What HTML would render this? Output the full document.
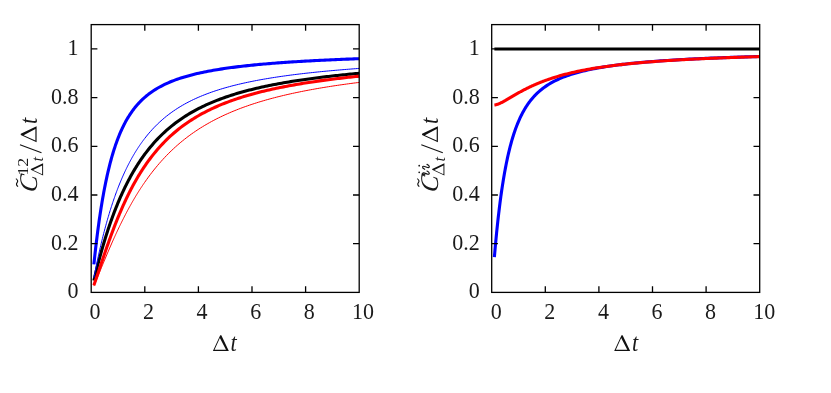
<!DOCTYPE html><html><head><meta charset="utf-8"><style>html,body{margin:0;padding:0;background:#fff}svg{display:block;will-change:transform}text{font-family:"Liberation Serif",serif;fill:#1a1a1a}</style></head><body>
<svg width="831" height="393" viewBox="0 0 831 393">
<rect width="831" height="393" fill="#fff"/>
<path d="M93.88,280.62 L94.31,278.81 L94.74,277.02 L95.16,275.25 L95.59,273.50 L96.02,271.76 L96.45,270.05 L96.88,268.35 L97.30,266.67 L97.73,265.01 L98.16,263.36 L98.59,261.73 L99.01,260.12 L99.44,258.52 L99.87,256.94 L100.30,255.38 L100.73,253.83 L101.15,252.30 L101.58,250.79 L102.01,249.29 L102.44,247.80 L102.87,246.33 L103.29,244.88 L103.72,243.44 L104.15,242.01 L104.58,240.60 L105.01,239.21 L105.43,237.82 L105.86,236.46 L106.29,235.10 L106.72,233.76 L107.14,232.43 L107.57,231.12 L108.00,229.82 L108.43,228.53 L108.86,227.26 L109.28,226.00 L109.71,224.75 L110.14,223.51 L110.57,222.29 L111.00,221.07 L111.42,219.87 L111.85,218.68 L112.28,217.51 L112.71,216.34 L113.14,215.19 L113.56,214.05 L113.99,212.91 L114.42,211.79 L114.85,210.68 L115.27,209.59 L115.70,208.50 L116.13,207.42 L116.56,206.36 L116.99,205.30 L117.41,204.25 L117.84,203.22 L118.27,202.19 L118.70,201.18 L119.13,200.17 L119.55,199.17 L119.98,198.19 L120.41,197.21 L120.84,196.24 L121.27,195.28 L121.69,194.33 L122.12,193.39 L122.55,192.46 L122.98,191.54 L123.41,190.62 L123.83,189.72 L124.26,188.82 L124.69,187.93 L125.12,187.05 L125.54,186.18 L125.97,185.32 L126.40,184.46 L126.83,183.61 L127.26,182.77 L127.68,181.94 L128.11,181.12 L128.54,180.30 L128.97,179.49 L129.40,178.69 L129.82,177.90 L130.25,177.11 L130.68,176.33 L131.11,175.56 L131.54,174.79 L131.96,174.03 L132.39,173.28 L132.82,172.54 L133.25,171.80 L133.67,171.07 L134.10,170.35 L134.53,169.63 L134.96,168.92 L135.39,168.21 L135.81,167.51 L136.24,166.82 L136.67,166.14 L137.10,165.46 L137.53,164.78 L137.95,164.11 L138.38,163.45 L138.81,162.80 L139.24,162.15 L139.67,161.50 L140.09,160.86 L140.52,160.23 L140.95,159.60 L141.38,158.98 L141.80,158.37 L142.23,157.75 L142.66,157.15 L143.09,156.55 L143.52,155.95 L143.94,155.36 L144.37,154.78 L144.80,154.20 L146.60,151.81 L148.40,149.51 L150.21,147.29 L152.01,145.15 L153.81,143.08 L155.61,141.08 L157.41,139.16 L159.21,137.29 L161.02,135.49 L162.82,133.75 L164.62,132.07 L166.42,130.45 L168.22,128.87 L170.02,127.35 L171.83,125.87 L173.63,124.45 L175.43,123.07 L177.23,121.73 L179.03,120.43 L180.83,119.17 L182.64,117.95 L184.44,116.77 L186.24,115.62 L188.04,114.50 L189.84,113.42 L191.64,112.37 L193.45,111.35 L195.25,110.36 L197.05,109.40 L198.85,108.46 L200.65,107.55 L202.45,106.67 L204.26,105.81 L206.06,104.97 L207.86,104.15 L209.66,103.36 L211.46,102.59 L213.26,101.84 L215.07,101.10 L216.87,100.39 L218.67,99.69 L220.47,99.01 L222.27,98.35 L224.07,97.70 L225.88,97.07 L227.68,96.46 L229.48,95.86 L231.28,95.27 L233.08,94.70 L234.88,94.14 L236.69,93.60 L238.49,93.06 L240.29,92.54 L242.09,92.03 L243.89,91.53 L245.69,91.04 L247.50,90.57 L249.30,90.10 L251.10,89.65 L252.90,89.20 L254.70,88.76 L256.50,88.33 L258.31,87.91 L260.11,87.50 L261.91,87.10 L263.71,86.71 L265.51,86.32 L267.31,85.94 L269.12,85.57 L270.92,85.21 L272.72,84.85 L274.52,84.50 L276.32,84.15 L278.12,83.82 L279.93,83.49 L281.73,83.16 L283.53,82.84 L285.33,82.53 L287.13,82.22 L288.93,81.92 L290.74,81.63 L292.54,81.33 L294.34,81.05 L296.14,80.77 L297.94,80.49 L299.74,80.22 L301.55,79.95 L303.35,79.69 L305.15,79.43 L306.95,79.18 L308.75,78.93 L310.55,78.68 L312.36,78.44 L314.16,78.20 L315.96,77.97 L317.76,77.74 L319.56,77.51 L321.36,77.29 L323.17,77.07 L324.97,76.85 L326.77,76.64 L328.57,76.43 L330.37,76.22 L332.17,76.02 L333.98,75.82 L335.78,75.62 L337.58,75.42 L339.38,75.23 L341.18,75.04 L342.98,74.86 L344.79,74.67 L346.59,74.49 L348.39,74.31 L350.19,74.14 L351.99,73.96 L353.79,73.79 L355.60,73.62 L357.40,73.45 L359.20,73.29" fill="none" stroke="#000000" stroke-width="3.1" stroke-linejoin="round"/>
<path d="M93.88,264.35 L94.31,260.29 L94.74,256.32 L95.16,252.46 L95.59,248.70 L96.02,245.03 L96.45,241.46 L96.88,237.97 L97.30,234.57 L97.73,231.26 L98.16,228.03 L98.59,224.88 L99.01,221.81 L99.44,218.81 L99.87,215.88 L100.30,213.03 L100.73,210.25 L101.15,207.53 L101.58,204.88 L102.01,202.30 L102.44,199.77 L102.87,197.31 L103.29,194.91 L103.72,192.56 L104.15,190.26 L104.58,188.02 L105.01,185.84 L105.43,183.70 L105.86,181.62 L106.29,179.58 L106.72,177.59 L107.14,175.64 L107.57,173.74 L108.00,171.88 L108.43,170.06 L108.86,168.29 L109.28,166.55 L109.71,164.85 L110.14,163.19 L110.57,161.57 L111.00,159.98 L111.42,158.43 L111.85,156.91 L112.28,155.43 L112.71,153.97 L113.14,152.55 L113.56,151.16 L113.99,149.79 L114.42,148.46 L114.85,147.15 L115.27,145.88 L115.70,144.62 L116.13,143.40 L116.56,142.20 L116.99,141.02 L117.41,139.87 L117.84,138.74 L118.27,137.64 L118.70,136.56 L119.13,135.49 L119.55,134.45 L119.98,133.43 L120.41,132.44 L120.84,131.46 L121.27,130.50 L121.69,129.55 L122.12,128.63 L122.55,127.73 L122.98,126.84 L123.41,125.97 L123.83,125.11 L124.26,124.27 L124.69,123.45 L125.12,122.64 L125.54,121.85 L125.97,121.07 L126.40,120.31 L126.83,119.56 L127.26,118.82 L127.68,118.10 L128.11,117.39 L128.54,116.69 L128.97,116.01 L129.40,115.34 L129.82,114.68 L130.25,114.03 L130.68,113.39 L131.11,112.76 L131.54,112.15 L131.96,111.54 L132.39,110.95 L132.82,110.36 L133.25,109.79 L133.67,109.22 L134.10,108.67 L134.53,108.12 L134.96,107.58 L135.39,107.05 L135.81,106.53 L136.24,106.02 L136.67,105.52 L137.10,105.02 L137.53,104.53 L137.95,104.05 L138.38,103.58 L138.81,103.12 L139.24,102.66 L139.67,102.21 L140.09,101.77 L140.52,101.33 L140.95,100.90 L141.38,100.48 L141.80,100.06 L142.23,99.65 L142.66,99.24 L143.09,98.84 L143.52,98.45 L143.94,98.07 L144.37,97.68 L144.80,97.31 L146.60,95.78 L148.40,94.35 L150.21,93.00 L152.01,91.72 L153.81,90.51 L155.61,89.36 L157.41,88.28 L159.21,87.25 L161.02,86.27 L162.82,85.34 L164.62,84.46 L166.42,83.61 L168.22,82.80 L170.02,82.03 L171.83,81.30 L173.63,80.59 L175.43,79.92 L177.23,79.27 L179.03,78.65 L180.83,78.06 L182.64,77.48 L184.44,76.93 L186.24,76.40 L188.04,75.89 L189.84,75.40 L191.64,74.93 L193.45,74.47 L195.25,74.03 L197.05,73.60 L198.85,73.19 L200.65,72.79 L202.45,72.40 L204.26,72.03 L206.06,71.67 L207.86,71.32 L209.66,70.98 L211.46,70.65 L213.26,70.33 L215.07,70.02 L216.87,69.71 L218.67,69.42 L220.47,69.13 L222.27,68.86 L224.07,68.59 L225.88,68.32 L227.68,68.07 L229.48,67.82 L231.28,67.58 L233.08,67.34 L234.88,67.11 L236.69,66.88 L238.49,66.66 L240.29,66.45 L242.09,66.24 L243.89,66.04 L245.69,65.84 L247.50,65.64 L249.30,65.45 L251.10,65.27 L252.90,65.09 L254.70,64.91 L256.50,64.73 L258.31,64.56 L260.11,64.40 L261.91,64.23 L263.71,64.07 L265.51,63.92 L267.31,63.76 L269.12,63.61 L270.92,63.47 L272.72,63.32 L274.52,63.18 L276.32,63.04 L278.12,62.91 L279.93,62.77 L281.73,62.64 L283.53,62.52 L285.33,62.39 L287.13,62.27 L288.93,62.14 L290.74,62.02 L292.54,61.91 L294.34,61.79 L296.14,61.68 L297.94,61.57 L299.74,61.46 L301.55,61.35 L303.35,61.25 L305.15,61.14 L306.95,61.04 L308.75,60.94 L310.55,60.84 L312.36,60.75 L314.16,60.65 L315.96,60.56 L317.76,60.46 L319.56,60.37 L321.36,60.28 L323.17,60.20 L324.97,60.11 L326.77,60.02 L328.57,59.94 L330.37,59.86 L332.17,59.78 L333.98,59.70 L335.78,59.62 L337.58,59.54 L339.38,59.46 L341.18,59.39 L342.98,59.31 L344.79,59.24 L346.59,59.16 L348.39,59.09 L350.19,59.02 L351.99,58.95 L353.79,58.88 L355.60,58.82 L357.40,58.75 L359.20,58.68" fill="none" stroke="#0000ff" stroke-width="3.1" stroke-linejoin="round"/>
<path d="M93.88,285.19 L94.31,283.99 L94.74,282.78 L95.16,281.55 L95.59,280.32 L96.02,279.08 L96.45,277.83 L96.88,276.58 L97.30,275.32 L97.73,274.05 L98.16,272.79 L98.59,271.52 L99.01,270.24 L99.44,268.97 L99.87,267.70 L100.30,266.42 L100.73,265.15 L101.15,263.87 L101.58,262.60 L102.01,261.33 L102.44,260.06 L102.87,258.79 L103.29,257.53 L103.72,256.27 L104.15,255.01 L104.58,253.76 L105.01,252.51 L105.43,251.26 L105.86,250.03 L106.29,248.79 L106.72,247.56 L107.14,246.34 L107.57,245.12 L108.00,243.91 L108.43,242.70 L108.86,241.50 L109.28,240.31 L109.71,239.12 L110.14,237.94 L110.57,236.76 L111.00,235.59 L111.42,234.43 L111.85,233.28 L112.28,232.13 L112.71,230.99 L113.14,229.86 L113.56,228.74 L113.99,227.62 L114.42,226.51 L114.85,225.41 L115.27,224.31 L115.70,223.23 L116.13,222.15 L116.56,221.07 L116.99,220.01 L117.41,218.95 L117.84,217.90 L118.27,216.86 L118.70,215.83 L119.13,214.80 L119.55,213.78 L119.98,212.77 L120.41,211.77 L120.84,210.77 L121.27,209.78 L121.69,208.80 L122.12,207.83 L122.55,206.86 L122.98,205.90 L123.41,204.95 L123.83,204.01 L124.26,203.07 L124.69,202.14 L125.12,201.22 L125.54,200.31 L125.97,199.40 L126.40,198.50 L126.83,197.61 L127.26,196.72 L127.68,195.85 L128.11,194.98 L128.54,194.11 L128.97,193.25 L129.40,192.40 L129.82,191.56 L130.25,190.72 L130.68,189.90 L131.11,189.07 L131.54,188.26 L131.96,187.45 L132.39,186.64 L132.82,185.85 L133.25,185.06 L133.67,184.28 L134.10,183.50 L134.53,182.73 L134.96,181.96 L135.39,181.21 L135.81,180.46 L136.24,179.71 L136.67,178.97 L137.10,178.24 L137.53,177.51 L137.95,176.79 L138.38,176.07 L138.81,175.36 L139.24,174.66 L139.67,173.96 L140.09,173.27 L140.52,172.59 L140.95,171.90 L141.38,171.23 L141.80,170.56 L142.23,169.90 L142.66,169.24 L143.09,168.58 L143.52,167.94 L143.94,167.29 L144.37,166.66 L144.80,166.03 L146.60,163.42 L148.40,160.90 L150.21,158.47 L152.01,156.12 L153.81,153.85 L155.61,151.65 L157.41,149.53 L159.21,147.48 L161.02,145.49 L162.82,143.57 L164.62,141.71 L166.42,139.91 L168.22,138.17 L170.02,136.48 L171.83,134.85 L173.63,133.26 L175.43,131.73 L177.23,130.24 L179.03,128.80 L180.83,127.40 L182.64,126.04 L184.44,124.73 L186.24,123.45 L188.04,122.21 L189.84,121.01 L191.64,119.84 L193.45,118.70 L195.25,117.60 L197.05,116.52 L198.85,115.48 L200.65,114.46 L202.45,113.48 L204.26,112.52 L206.06,111.58 L207.86,110.67 L209.66,109.79 L211.46,108.92 L213.26,108.08 L215.07,107.27 L216.87,106.47 L218.67,105.69 L220.47,104.93 L222.27,104.19 L224.07,103.47 L225.88,102.77 L227.68,102.08 L229.48,101.41 L231.28,100.75 L233.08,100.11 L234.88,99.49 L236.69,98.88 L238.49,98.28 L240.29,97.70 L242.09,97.13 L243.89,96.57 L245.69,96.03 L247.50,95.50 L249.30,94.97 L251.10,94.46 L252.90,93.96 L254.70,93.48 L256.50,93.00 L258.31,92.53 L260.11,92.07 L261.91,91.62 L263.71,91.18 L265.51,90.75 L267.31,90.32 L269.12,89.91 L270.92,89.50 L272.72,89.10 L274.52,88.71 L276.32,88.32 L278.12,87.95 L279.93,87.58 L281.73,87.21 L283.53,86.86 L285.33,86.51 L287.13,86.16 L288.93,85.83 L290.74,85.50 L292.54,85.17 L294.34,84.85 L296.14,84.54 L297.94,84.23 L299.74,83.92 L301.55,83.62 L303.35,83.33 L305.15,83.04 L306.95,82.76 L308.75,82.48 L310.55,82.20 L312.36,81.93 L314.16,81.67 L315.96,81.41 L317.76,81.15 L319.56,80.89 L321.36,80.64 L323.17,80.40 L324.97,80.16 L326.77,79.92 L328.57,79.68 L330.37,79.45 L332.17,79.22 L333.98,79.00 L335.78,78.78 L337.58,78.56 L339.38,78.35 L341.18,78.13 L342.98,77.93 L344.79,77.72 L346.59,77.52 L348.39,77.32 L350.19,77.12 L351.99,76.93 L353.79,76.73 L355.60,76.54 L357.40,76.36 L359.20,76.17" fill="none" stroke="#ff0000" stroke-width="3.1" stroke-linejoin="round"/>
<path d="M93.88,277.80 L94.31,275.58 L94.74,273.38 L95.16,271.22 L95.59,269.09 L96.02,266.98 L96.45,264.90 L96.88,262.84 L97.30,260.82 L97.73,258.81 L98.16,256.84 L98.59,254.89 L99.01,252.96 L99.44,251.06 L99.87,249.19 L100.30,247.34 L100.73,245.51 L101.15,243.70 L101.58,241.92 L102.01,240.16 L102.44,238.42 L102.87,236.71 L103.29,235.01 L103.72,233.34 L104.15,231.69 L104.58,230.06 L105.01,228.45 L105.43,226.86 L105.86,225.29 L106.29,223.74 L106.72,222.21 L107.14,220.69 L107.57,219.20 L108.00,217.72 L108.43,216.27 L108.86,214.83 L109.28,213.40 L109.71,212.00 L110.14,210.61 L110.57,209.24 L111.00,207.89 L111.42,206.55 L111.85,205.23 L112.28,203.92 L112.71,202.64 L113.14,201.36 L113.56,200.10 L113.99,198.86 L114.42,197.63 L114.85,196.42 L115.27,195.22 L115.70,194.03 L116.13,192.86 L116.56,191.71 L116.99,190.56 L117.41,189.43 L117.84,188.32 L118.27,187.21 L118.70,186.12 L119.13,185.04 L119.55,183.98 L119.98,182.93 L120.41,181.89 L120.84,180.86 L121.27,179.84 L121.69,178.84 L122.12,177.84 L122.55,176.86 L122.98,175.89 L123.41,174.93 L123.83,173.99 L124.26,173.05 L124.69,172.12 L125.12,171.20 L125.54,170.30 L125.97,169.40 L126.40,168.52 L126.83,167.64 L127.26,166.78 L127.68,165.92 L128.11,165.07 L128.54,164.24 L128.97,163.41 L129.40,162.59 L129.82,161.78 L130.25,160.98 L130.68,160.19 L131.11,159.41 L131.54,158.63 L131.96,157.87 L132.39,157.11 L132.82,156.36 L133.25,155.62 L133.67,154.89 L134.10,154.16 L134.53,153.44 L134.96,152.73 L135.39,152.03 L135.81,151.34 L136.24,150.65 L136.67,149.97 L137.10,149.30 L137.53,148.63 L137.95,147.98 L138.38,147.32 L138.81,146.68 L139.24,146.04 L139.67,145.41 L140.09,144.79 L140.52,144.17 L140.95,143.56 L141.38,142.95 L141.80,142.36 L142.23,141.76 L142.66,141.18 L143.09,140.60 L143.52,140.02 L143.94,139.45 L144.37,138.89 L144.80,138.33 L146.60,136.05 L148.40,133.86 L150.21,131.76 L152.01,129.75 L153.81,127.82 L155.61,125.97 L157.41,124.18 L159.21,122.47 L161.02,120.83 L162.82,119.25 L164.62,117.72 L166.42,116.26 L168.22,114.85 L170.02,113.49 L171.83,112.18 L173.63,110.92 L175.43,109.70 L177.23,108.52 L179.03,107.39 L180.83,106.29 L182.64,105.23 L184.44,104.20 L186.24,103.21 L188.04,102.26 L189.84,101.33 L191.64,100.43 L193.45,99.56 L195.25,98.72 L197.05,97.90 L198.85,97.11 L200.65,96.35 L202.45,95.60 L204.26,94.88 L206.06,94.18 L207.86,93.49 L209.66,92.83 L211.46,92.19 L213.26,91.56 L215.07,90.95 L216.87,90.36 L218.67,89.79 L220.47,89.23 L222.27,88.68 L224.07,88.15 L225.88,87.63 L227.68,87.13 L229.48,86.63 L231.28,86.15 L233.08,85.68 L234.88,85.23 L236.69,84.78 L238.49,84.35 L240.29,83.92 L242.09,83.51 L243.89,83.10 L245.69,82.71 L247.50,82.32 L249.30,81.94 L251.10,81.57 L252.90,81.21 L254.70,80.85 L256.50,80.51 L258.31,80.17 L260.11,79.84 L261.91,79.51 L263.71,79.19 L265.51,78.88 L267.31,78.58 L269.12,78.28 L270.92,77.98 L272.72,77.69 L274.52,77.41 L276.32,77.14 L278.12,76.86 L279.93,76.60 L281.73,76.34 L283.53,76.08 L285.33,75.83 L287.13,75.58 L288.93,75.34 L290.74,75.10 L292.54,74.87 L294.34,74.64 L296.14,74.41 L297.94,74.19 L299.74,73.97 L301.55,73.76 L303.35,73.55 L305.15,73.34 L306.95,73.14 L308.75,72.94 L310.55,72.74 L312.36,72.55 L314.16,72.36 L315.96,72.17 L317.76,71.98 L319.56,71.80 L321.36,71.62 L323.17,71.45 L324.97,71.27 L326.77,71.10 L328.57,70.93 L330.37,70.77 L332.17,70.61 L333.98,70.45 L335.78,70.29 L337.58,70.13 L339.38,69.98 L341.18,69.83 L342.98,69.68 L344.79,69.53 L346.59,69.38 L348.39,69.24 L350.19,69.10 L351.99,68.96 L353.79,68.82 L355.60,68.69 L357.40,68.55 L359.20,68.42" fill="none" stroke="#0000ff" stroke-width="1.0" stroke-linejoin="round"/>
<path d="M93.88,286.07 L94.31,285.04 L94.74,284.01 L95.16,282.98 L95.59,281.94 L96.02,280.90 L96.45,279.86 L96.88,278.82 L97.30,277.77 L97.73,276.73 L98.16,275.69 L98.59,274.64 L99.01,273.59 L99.44,272.55 L99.87,271.50 L100.30,270.46 L100.73,269.41 L101.15,268.37 L101.58,267.33 L102.01,266.29 L102.44,265.25 L102.87,264.21 L103.29,263.17 L103.72,262.14 L104.15,261.11 L104.58,260.08 L105.01,259.05 L105.43,258.03 L105.86,257.01 L106.29,255.99 L106.72,254.97 L107.14,253.96 L107.57,252.95 L108.00,251.94 L108.43,250.94 L108.86,249.94 L109.28,248.95 L109.71,247.96 L110.14,246.97 L110.57,245.98 L111.00,245.00 L111.42,244.03 L111.85,243.06 L112.28,242.09 L112.71,241.13 L113.14,240.17 L113.56,239.21 L113.99,238.26 L114.42,237.31 L114.85,236.37 L115.27,235.44 L115.70,234.50 L116.13,233.57 L116.56,232.65 L116.99,231.73 L117.41,230.82 L117.84,229.91 L118.27,229.00 L118.70,228.10 L119.13,227.21 L119.55,226.32 L119.98,225.43 L120.41,224.55 L120.84,223.68 L121.27,222.80 L121.69,221.94 L122.12,221.08 L122.55,220.22 L122.98,219.37 L123.41,218.52 L123.83,217.68 L124.26,216.84 L124.69,216.01 L125.12,215.18 L125.54,214.36 L125.97,213.54 L126.40,212.73 L126.83,211.92 L127.26,211.12 L127.68,210.32 L128.11,209.52 L128.54,208.74 L128.97,207.95 L129.40,207.17 L129.82,206.40 L130.25,205.63 L130.68,204.86 L131.11,204.10 L131.54,203.35 L131.96,202.60 L132.39,201.85 L132.82,201.11 L133.25,200.37 L133.67,199.64 L134.10,198.91 L134.53,198.19 L134.96,197.47 L135.39,196.76 L135.81,196.05 L136.24,195.34 L136.67,194.64 L137.10,193.95 L137.53,193.26 L137.95,192.57 L138.38,191.89 L138.81,191.21 L139.24,190.54 L139.67,189.87 L140.09,189.20 L140.52,188.54 L140.95,187.89 L141.38,187.23 L141.80,186.59 L142.23,185.94 L142.66,185.30 L143.09,184.67 L143.52,184.04 L143.94,183.41 L144.37,182.79 L144.80,182.17 L146.60,179.61 L148.40,177.12 L150.21,174.69 L152.01,172.34 L153.81,170.04 L155.61,167.82 L157.41,165.65 L159.21,163.54 L161.02,161.49 L162.82,159.49 L164.62,157.55 L166.42,155.66 L168.22,153.82 L170.02,152.04 L171.83,150.30 L173.63,148.60 L175.43,146.95 L177.23,145.35 L179.03,143.78 L180.83,142.26 L182.64,140.78 L184.44,139.34 L186.24,137.93 L188.04,136.56 L189.84,135.22 L191.64,133.92 L193.45,132.65 L195.25,131.42 L197.05,130.21 L198.85,129.03 L200.65,127.89 L202.45,126.77 L204.26,125.68 L206.06,124.61 L207.86,123.57 L209.66,122.55 L211.46,121.56 L213.26,120.60 L215.07,119.65 L216.87,118.73 L218.67,117.83 L220.47,116.94 L222.27,116.08 L224.07,115.24 L225.88,114.42 L227.68,113.61 L229.48,112.83 L231.28,112.06 L233.08,111.30 L234.88,110.57 L236.69,109.85 L238.49,109.14 L240.29,108.45 L242.09,107.78 L243.89,107.11 L245.69,106.47 L247.50,105.83 L249.30,105.21 L251.10,104.60 L252.90,104.00 L254.70,103.42 L256.50,102.85 L258.31,102.28 L260.11,101.73 L261.91,101.19 L263.71,100.66 L265.51,100.14 L267.31,99.63 L269.12,99.13 L270.92,98.64 L272.72,98.16 L274.52,97.68 L276.32,97.22 L278.12,96.76 L279.93,96.32 L281.73,95.88 L283.53,95.44 L285.33,95.02 L287.13,94.60 L288.93,94.19 L290.74,93.79 L292.54,93.39 L294.34,93.01 L296.14,92.62 L297.94,92.25 L299.74,91.88 L301.55,91.51 L303.35,91.16 L305.15,90.80 L306.95,90.46 L308.75,90.12 L310.55,89.78 L312.36,89.45 L314.16,89.13 L315.96,88.81 L317.76,88.49 L319.56,88.18 L321.36,87.88 L323.17,87.58 L324.97,87.28 L326.77,86.99 L328.57,86.70 L330.37,86.42 L332.17,86.14 L333.98,85.87 L335.78,85.59 L337.58,85.33 L339.38,85.06 L341.18,84.81 L342.98,84.55 L344.79,84.30 L346.59,84.05 L348.39,83.80 L350.19,83.56 L351.99,83.32 L353.79,83.09 L355.60,82.86 L357.40,82.63 L359.20,82.40" fill="none" stroke="#ff0000" stroke-width="1.0" stroke-linejoin="round"/>
<rect x="91.20" y="24.60" width="268.00" height="267.80" fill="none" stroke="#000" stroke-width="1.3"/>
<path d="M144.80,292.40v-6.2 M144.80,24.60v6.2 M198.40,292.40v-6.2 M198.40,24.60v6.2 M252.00,292.40v-6.2 M252.00,24.60v6.2 M305.60,292.40v-6.2 M305.60,24.60v6.2 M91.20,243.71h6.2 M359.20,243.71h-6.2 M91.20,195.02h6.2 M359.20,195.02h-6.2 M91.20,146.33h6.2 M359.20,146.33h-6.2 M91.20,97.64h6.2 M359.20,97.64h-6.2 M91.20,48.95h6.2 M359.20,48.95h-6.2" stroke="#000" stroke-width="1.3" fill="none"/>
<text transform="translate(94.90,319.3) scale(0.95,1)" font-size="23.2" text-anchor="middle">0</text>
<text transform="translate(148.50,319.3) scale(0.95,1)" font-size="23.2" text-anchor="middle">2</text>
<text transform="translate(202.10,319.3) scale(0.95,1)" font-size="23.2" text-anchor="middle">4</text>
<text transform="translate(255.70,319.3) scale(0.95,1)" font-size="23.2" text-anchor="middle">6</text>
<text transform="translate(309.30,319.3) scale(0.95,1)" font-size="23.2" text-anchor="middle">8</text>
<text transform="translate(362.90,319.3) scale(0.95,1)" font-size="23.2" text-anchor="middle">10</text>
<text transform="translate(78.50,298.40) scale(0.95,1)" font-size="23.2" text-anchor="end">0</text>
<text transform="translate(78.50,249.71) scale(0.95,1)" font-size="23.2" text-anchor="end">0.2</text>
<text transform="translate(78.50,201.02) scale(0.95,1)" font-size="23.2" text-anchor="end">0.4</text>
<text transform="translate(78.50,152.33) scale(0.95,1)" font-size="23.2" text-anchor="end">0.6</text>
<text transform="translate(78.50,103.64) scale(0.95,1)" font-size="23.2" text-anchor="end">0.8</text>
<text transform="translate(78.50,54.95) scale(0.95,1)" font-size="23.2" text-anchor="end">1</text>
<path transform="translate(212.90,351.00)" d="M0,0 L15.95,0 L8.41,-15.84 L7.31,-15.84 Z M1.65,-1.21 L13.09,-1.21 L6.98,-12.98 Z" fill="#111" fill-rule="evenodd"/>
<text transform="translate(230.60,351.3) scale(0.88,1)" font-size="25.5" font-style="italic">t</text>
<g transform="translate(36.60,192.5) rotate(-90)">
<text transform="translate(-0.6,0.3) skewX(-9)" font-size="25.5" font-style="italic">C</text>
<path d="M5.9,-18.6 q2.0,-2.5 4.0,-0.9 t4.0,-1.2" fill="none" stroke="#111" stroke-width="1.15"/>
<text x="16.9" y="-8.8" font-size="14.5" textLength="17.7" lengthAdjust="spacingAndGlyphs">12</text>
<path transform="translate(17.00,6.50)" d="M0,0 L12.32,0 L6.50,-12.24 L5.65,-12.24 Z M1.27,-0.94 L10.11,-0.94 L5.40,-10.03 Z" fill="#111" fill-rule="evenodd"/>
<text transform="translate(31.0,6.7) scale(0.95,1)" font-size="17" font-style="italic">t</text>
<path d="M39.7,4.9 L47.7,-16.6" stroke="#111" stroke-width="1.05" fill="none"/>
<path transform="translate(50.30,0.00)" d="M0,0 L15.95,0 L8.41,-15.84 L7.31,-15.84 Z M1.65,-1.21 L13.09,-1.21 L6.98,-12.98 Z" fill="#111" fill-rule="evenodd"/>
<text transform="translate(68.6,0.3) scale(0.88,1)" font-size="25.5" font-style="italic">t</text>
</g>
<path d="M494.38,257.04 L494.81,252.05 L495.24,247.22 L495.66,242.56 L496.09,238.04 L496.52,233.67 L496.95,229.44 L497.38,225.34 L497.80,221.38 L498.23,217.54 L498.66,213.82 L499.09,210.22 L499.51,206.73 L499.94,203.35 L500.37,200.07 L500.80,196.89 L501.23,193.81 L501.65,190.82 L502.08,187.93 L502.51,185.12 L502.94,182.39 L503.37,179.75 L503.79,177.18 L504.22,174.69 L504.65,172.27 L505.08,169.93 L505.51,167.65 L505.93,165.43 L506.36,163.28 L506.79,161.19 L507.22,159.16 L507.64,157.18 L508.07,155.27 L508.50,153.40 L508.93,151.59 L509.36,149.82 L509.78,148.10 L510.21,146.43 L510.64,144.81 L511.07,143.23 L511.50,141.69 L511.92,140.19 L512.35,138.73 L512.78,137.31 L513.21,135.92 L513.64,134.58 L514.06,133.26 L514.49,131.98 L514.92,130.73 L515.35,129.51 L515.77,128.33 L516.20,127.17 L516.63,126.04 L517.06,124.94 L517.49,123.86 L517.91,122.81 L518.34,121.79 L518.77,120.79 L519.20,119.81 L519.63,118.86 L520.05,117.93 L520.48,117.02 L520.91,116.13 L521.34,115.26 L521.77,114.42 L522.19,113.59 L522.62,112.78 L523.05,111.98 L523.48,111.21 L523.91,110.45 L524.33,109.71 L524.76,108.98 L525.19,108.27 L525.62,107.57 L526.04,106.89 L526.47,106.23 L526.90,105.58 L527.33,104.94 L527.76,104.31 L528.18,103.70 L528.61,103.10 L529.04,102.51 L529.47,101.93 L529.90,101.37 L530.32,100.81 L530.75,100.27 L531.18,99.74 L531.61,99.21 L532.04,98.70 L532.46,98.20 L532.89,97.70 L533.32,97.22 L533.75,96.74 L534.17,96.28 L534.60,95.82 L535.03,95.37 L535.46,94.93 L535.89,94.50 L536.31,94.07 L536.74,93.65 L537.17,93.24 L537.60,92.84 L538.03,92.44 L538.45,92.05 L538.88,91.67 L539.31,91.29 L539.74,90.92 L540.17,90.56 L540.59,90.20 L541.02,89.85 L541.45,89.50 L541.88,89.16 L542.30,88.82 L542.73,88.49 L543.16,88.17 L543.59,87.85 L544.02,87.54 L544.44,87.23 L544.87,86.92 L545.30,86.62 L547.10,85.41 L548.90,84.27 L550.71,83.20 L552.51,82.19 L554.31,81.23 L556.11,80.33 L557.91,79.48 L559.71,78.68 L561.52,77.91 L563.32,77.18 L565.12,76.49 L566.92,75.83 L568.72,75.20 L570.52,74.60 L572.33,74.03 L574.13,73.48 L575.93,72.96 L577.73,72.46 L579.53,71.97 L581.33,71.51 L583.14,71.07 L584.94,70.64 L586.74,70.23 L588.54,69.83 L590.34,69.45 L592.14,69.08 L593.95,68.73 L595.75,68.38 L597.55,68.05 L599.35,67.73 L601.15,67.42 L602.95,67.13 L604.76,66.84 L606.56,66.56 L608.36,66.28 L610.16,66.02 L611.96,65.76 L613.76,65.52 L615.57,65.27 L617.37,65.04 L619.17,64.81 L620.97,64.59 L622.77,64.38 L624.57,64.17 L626.38,63.96 L628.18,63.77 L629.98,63.57 L631.78,63.38 L633.58,63.20 L635.38,63.02 L637.19,62.85 L638.99,62.68 L640.79,62.51 L642.59,62.35 L644.39,62.19 L646.19,62.04 L648.00,61.89 L649.80,61.74 L651.60,61.59 L653.40,61.45 L655.20,61.32 L657.00,61.18 L658.81,61.05 L660.61,60.92 L662.41,60.79 L664.21,60.67 L666.01,60.55 L667.81,60.43 L669.62,60.31 L671.42,60.20 L673.22,60.09 L675.02,59.98 L676.82,59.87 L678.62,59.77 L680.43,59.66 L682.23,59.56 L684.03,59.46 L685.83,59.36 L687.63,59.27 L689.43,59.17 L691.24,59.08 L693.04,58.99 L694.84,58.90 L696.64,58.81 L698.44,58.73 L700.24,58.64 L702.05,58.56 L703.85,58.48 L705.65,58.40 L707.45,58.32 L709.25,58.24 L711.05,58.17 L712.86,58.09 L714.66,58.02 L716.46,57.94 L718.26,57.87 L720.06,57.80 L721.86,57.73 L723.67,57.66 L725.47,57.60 L727.27,57.53 L729.07,57.47 L730.87,57.40 L732.67,57.34 L734.48,57.28 L736.28,57.22 L738.08,57.15 L739.88,57.10 L741.68,57.04 L743.48,56.98 L745.29,56.92 L747.09,56.87 L748.89,56.81 L750.69,56.76 L752.49,56.70 L754.29,56.65 L756.10,56.60 L757.90,56.54 L759.70,56.49" fill="none" stroke="#0000ff" stroke-width="3.1" stroke-linejoin="round"/>
<path d="M494.38,105.00 L494.81,104.95 L495.24,104.88 L495.66,104.80 L496.09,104.71 L496.52,104.60 L496.95,104.47 L497.38,104.34 L497.80,104.19 L498.23,104.04 L498.66,103.87 L499.09,103.70 L499.51,103.52 L499.94,103.33 L500.37,103.13 L500.80,102.93 L501.23,102.72 L501.65,102.51 L502.08,102.29 L502.51,102.07 L502.94,101.84 L503.37,101.61 L503.79,101.38 L504.22,101.14 L504.65,100.90 L505.08,100.66 L505.51,100.42 L505.93,100.17 L506.36,99.93 L506.79,99.68 L507.22,99.43 L507.64,99.18 L508.07,98.93 L508.50,98.67 L508.93,98.42 L509.36,98.17 L509.78,97.92 L510.21,97.66 L510.64,97.41 L511.07,97.16 L511.50,96.90 L511.92,96.65 L512.35,96.40 L512.78,96.15 L513.21,95.90 L513.64,95.64 L514.06,95.39 L514.49,95.15 L514.92,94.90 L515.35,94.65 L515.77,94.40 L516.20,94.16 L516.63,93.91 L517.06,93.67 L517.49,93.43 L517.91,93.19 L518.34,92.95 L518.77,92.71 L519.20,92.47 L519.63,92.23 L520.05,92.00 L520.48,91.76 L520.91,91.53 L521.34,91.30 L521.77,91.07 L522.19,90.84 L522.62,90.61 L523.05,90.39 L523.48,90.16 L523.91,89.94 L524.33,89.72 L524.76,89.50 L525.19,89.28 L525.62,89.06 L526.04,88.84 L526.47,88.63 L526.90,88.41 L527.33,88.20 L527.76,87.99 L528.18,87.78 L528.61,87.57 L529.04,87.37 L529.47,87.16 L529.90,86.96 L530.32,86.76 L530.75,86.56 L531.18,86.36 L531.61,86.16 L532.04,85.96 L532.46,85.77 L532.89,85.57 L533.32,85.38 L533.75,85.19 L534.17,85.00 L534.60,84.81 L535.03,84.62 L535.46,84.44 L535.89,84.25 L536.31,84.07 L536.74,83.89 L537.17,83.71 L537.60,83.53 L538.03,83.35 L538.45,83.17 L538.88,83.00 L539.31,82.82 L539.74,82.65 L540.17,82.48 L540.59,82.31 L541.02,82.14 L541.45,81.97 L541.88,81.81 L542.30,81.64 L542.73,81.48 L543.16,81.31 L543.59,81.15 L544.02,80.99 L544.44,80.83 L544.87,80.67 L545.30,80.52 L547.10,79.87 L548.90,79.24 L550.71,78.63 L552.51,78.04 L554.31,77.46 L556.11,76.91 L557.91,76.37 L559.71,75.84 L561.52,75.33 L563.32,74.84 L565.12,74.36 L566.92,73.90 L568.72,73.45 L570.52,73.01 L572.33,72.59 L574.13,72.17 L575.93,71.77 L577.73,71.38 L579.53,71.00 L581.33,70.64 L583.14,70.28 L584.94,69.93 L586.74,69.59 L588.54,69.26 L590.34,68.94 L592.14,68.63 L593.95,68.33 L595.75,68.03 L597.55,67.74 L599.35,67.46 L601.15,67.19 L602.95,66.93 L604.76,66.67 L606.56,66.41 L608.36,66.17 L610.16,65.93 L611.96,65.69 L613.76,65.47 L615.57,65.24 L617.37,65.03 L619.17,64.81 L620.97,64.61 L622.77,64.40 L624.57,64.21 L626.38,64.01 L628.18,63.83 L629.98,63.64 L631.78,63.46 L633.58,63.29 L635.38,63.11 L637.19,62.95 L638.99,62.78 L640.79,62.62 L642.59,62.46 L644.39,62.31 L646.19,62.16 L648.00,62.01 L649.80,61.87 L651.60,61.73 L653.40,61.59 L655.20,61.45 L657.00,61.32 L658.81,61.19 L660.61,61.06 L662.41,60.93 L664.21,60.81 L666.01,60.69 L667.81,60.57 L669.62,60.46 L671.42,60.34 L673.22,60.23 L675.02,60.12 L676.82,60.02 L678.62,59.91 L680.43,59.81 L682.23,59.71 L684.03,59.61 L685.83,59.51 L687.63,59.41 L689.43,59.32 L691.24,59.23 L693.04,59.13 L694.84,59.05 L696.64,58.96 L698.44,58.87 L700.24,58.79 L702.05,58.70 L703.85,58.62 L705.65,58.54 L707.45,58.46 L709.25,58.38 L711.05,58.30 L712.86,58.23 L714.66,58.15 L716.46,58.08 L718.26,58.01 L720.06,57.94 L721.86,57.87 L723.67,57.80 L725.47,57.73 L727.27,57.66 L729.07,57.60 L730.87,57.53 L732.67,57.47 L734.48,57.40 L736.28,57.34 L738.08,57.28 L739.88,57.22 L741.68,57.16 L743.48,57.10 L745.29,57.04 L747.09,56.99 L748.89,56.93 L750.69,56.88 L752.49,56.82 L754.29,56.77 L756.10,56.71 L757.90,56.66 L759.70,56.61" fill="none" stroke="#ff0000" stroke-width="3.1" stroke-linejoin="round"/>
<path d="M494.38,48.95 L494.81,48.95 L495.24,48.95 L495.66,48.95 L496.09,48.95 L496.52,48.95 L496.95,48.95 L497.38,48.95 L497.80,48.95 L498.23,48.95 L498.66,48.95 L499.09,48.95 L499.51,48.95 L499.94,48.95 L500.37,48.95 L500.80,48.95 L501.23,48.95 L501.65,48.95 L502.08,48.95 L502.51,48.95 L502.94,48.95 L503.37,48.95 L503.79,48.95 L504.22,48.95 L504.65,48.95 L505.08,48.95 L505.51,48.95 L505.93,48.95 L506.36,48.95 L506.79,48.95 L507.22,48.95 L507.64,48.95 L508.07,48.95 L508.50,48.95 L508.93,48.95 L509.36,48.95 L509.78,48.95 L510.21,48.95 L510.64,48.95 L511.07,48.95 L511.50,48.95 L511.92,48.95 L512.35,48.95 L512.78,48.95 L513.21,48.95 L513.64,48.95 L514.06,48.95 L514.49,48.95 L514.92,48.95 L515.35,48.95 L515.77,48.95 L516.20,48.95 L516.63,48.95 L517.06,48.95 L517.49,48.95 L517.91,48.95 L518.34,48.95 L518.77,48.95 L519.20,48.95 L519.63,48.95 L520.05,48.95 L520.48,48.95 L520.91,48.95 L521.34,48.95 L521.77,48.95 L522.19,48.95 L522.62,48.95 L523.05,48.95 L523.48,48.95 L523.91,48.95 L524.33,48.95 L524.76,48.95 L525.19,48.95 L525.62,48.95 L526.04,48.95 L526.47,48.95 L526.90,48.95 L527.33,48.95 L527.76,48.95 L528.18,48.95 L528.61,48.95 L529.04,48.95 L529.47,48.95 L529.90,48.95 L530.32,48.95 L530.75,48.95 L531.18,48.95 L531.61,48.95 L532.04,48.95 L532.46,48.95 L532.89,48.95 L533.32,48.95 L533.75,48.95 L534.17,48.95 L534.60,48.95 L535.03,48.95 L535.46,48.95 L535.89,48.95 L536.31,48.95 L536.74,48.95 L537.17,48.95 L537.60,48.95 L538.03,48.95 L538.45,48.95 L538.88,48.95 L539.31,48.95 L539.74,48.95 L540.17,48.95 L540.59,48.95 L541.02,48.95 L541.45,48.95 L541.88,48.95 L542.30,48.95 L542.73,48.95 L543.16,48.95 L543.59,48.95 L544.02,48.95 L544.44,48.95 L544.87,48.95 L545.30,48.95 L547.10,48.95 L548.90,48.95 L550.71,48.95 L552.51,48.95 L554.31,48.95 L556.11,48.95 L557.91,48.95 L559.71,48.95 L561.52,48.95 L563.32,48.95 L565.12,48.95 L566.92,48.95 L568.72,48.95 L570.52,48.95 L572.33,48.95 L574.13,48.95 L575.93,48.95 L577.73,48.95 L579.53,48.95 L581.33,48.95 L583.14,48.95 L584.94,48.95 L586.74,48.95 L588.54,48.95 L590.34,48.95 L592.14,48.95 L593.95,48.95 L595.75,48.95 L597.55,48.95 L599.35,48.95 L601.15,48.95 L602.95,48.95 L604.76,48.95 L606.56,48.95 L608.36,48.95 L610.16,48.95 L611.96,48.95 L613.76,48.95 L615.57,48.95 L617.37,48.95 L619.17,48.95 L620.97,48.95 L622.77,48.95 L624.57,48.95 L626.38,48.95 L628.18,48.95 L629.98,48.95 L631.78,48.95 L633.58,48.95 L635.38,48.95 L637.19,48.95 L638.99,48.95 L640.79,48.95 L642.59,48.95 L644.39,48.95 L646.19,48.95 L648.00,48.95 L649.80,48.95 L651.60,48.95 L653.40,48.95 L655.20,48.95 L657.00,48.95 L658.81,48.95 L660.61,48.95 L662.41,48.95 L664.21,48.95 L666.01,48.95 L667.81,48.95 L669.62,48.95 L671.42,48.95 L673.22,48.95 L675.02,48.95 L676.82,48.95 L678.62,48.95 L680.43,48.95 L682.23,48.95 L684.03,48.95 L685.83,48.95 L687.63,48.95 L689.43,48.95 L691.24,48.95 L693.04,48.95 L694.84,48.95 L696.64,48.95 L698.44,48.95 L700.24,48.95 L702.05,48.95 L703.85,48.95 L705.65,48.95 L707.45,48.95 L709.25,48.95 L711.05,48.95 L712.86,48.95 L714.66,48.95 L716.46,48.95 L718.26,48.95 L720.06,48.95 L721.86,48.95 L723.67,48.95 L725.47,48.95 L727.27,48.95 L729.07,48.95 L730.87,48.95 L732.67,48.95 L734.48,48.95 L736.28,48.95 L738.08,48.95 L739.88,48.95 L741.68,48.95 L743.48,48.95 L745.29,48.95 L747.09,48.95 L748.89,48.95 L750.69,48.95 L752.49,48.95 L754.29,48.95 L756.10,48.95 L757.90,48.95 L759.70,48.95" fill="none" stroke="#000000" stroke-width="3.1" stroke-linejoin="round"/>
<rect x="491.70" y="24.60" width="268.00" height="267.80" fill="none" stroke="#000" stroke-width="1.3"/>
<path d="M545.30,292.40v-6.2 M545.30,24.60v6.2 M598.90,292.40v-6.2 M598.90,24.60v6.2 M652.50,292.40v-6.2 M652.50,24.60v6.2 M706.10,292.40v-6.2 M706.10,24.60v6.2 M491.70,243.71h6.2 M759.70,243.71h-6.2 M491.70,195.02h6.2 M759.70,195.02h-6.2 M491.70,146.33h6.2 M759.70,146.33h-6.2 M491.70,97.64h6.2 M759.70,97.64h-6.2 M491.70,48.95h6.2 M759.70,48.95h-6.2" stroke="#000" stroke-width="1.3" fill="none"/>
<text transform="translate(496.20,319.3) scale(0.95,1)" font-size="23.2" text-anchor="middle">0</text>
<text transform="translate(549.80,319.3) scale(0.95,1)" font-size="23.2" text-anchor="middle">2</text>
<text transform="translate(603.40,319.3) scale(0.95,1)" font-size="23.2" text-anchor="middle">4</text>
<text transform="translate(657.00,319.3) scale(0.95,1)" font-size="23.2" text-anchor="middle">6</text>
<text transform="translate(710.60,319.3) scale(0.95,1)" font-size="23.2" text-anchor="middle">8</text>
<text transform="translate(764.20,319.3) scale(0.95,1)" font-size="23.2" text-anchor="middle">10</text>
<text transform="translate(479.80,298.40) scale(0.95,1)" font-size="23.2" text-anchor="end">0</text>
<text transform="translate(479.80,249.71) scale(0.95,1)" font-size="23.2" text-anchor="end">0.2</text>
<text transform="translate(479.80,201.02) scale(0.95,1)" font-size="23.2" text-anchor="end">0.4</text>
<text transform="translate(479.80,152.33) scale(0.95,1)" font-size="23.2" text-anchor="end">0.6</text>
<text transform="translate(479.80,103.64) scale(0.95,1)" font-size="23.2" text-anchor="end">0.8</text>
<text transform="translate(479.80,54.95) scale(0.95,1)" font-size="23.2" text-anchor="end">1</text>
<path transform="translate(614.20,351.00)" d="M0,0 L15.95,0 L8.41,-15.84 L7.31,-15.84 Z M1.65,-1.21 L13.09,-1.21 L6.98,-12.98 Z" fill="#111" fill-rule="evenodd"/>
<text transform="translate(631.90,351.3) scale(0.88,1)" font-size="25.5" font-style="italic">t</text>
<g transform="translate(437.90,192.5) rotate(-90)">
<text transform="translate(-0.6,0.3) skewX(-9)" font-size="25.5" font-style="italic">C</text>
<path d="M5.9,-18.6 q2.0,-2.5 4.0,-0.9 t4.0,-1.2" fill="none" stroke="#111" stroke-width="1.15"/>
<g transform="translate(16.3,-8.5)"><path d="M0.3,-4.7 Q1.5,-7.2 2.8,-6.8 Q3.6,-6.4 3.1,-4.8 L2.1,-1.9 Q1.6,-0.1 2.9,-0.1 Q4.3,-0.3 5.2,-2.4" fill="none" stroke="#111" stroke-width="1.15" stroke-linecap="round"/><circle cx="3.9" cy="-10.2" r="0.85" fill="#111"/></g>
<g transform="translate(22.9,-8.5)"><path d="M0.3,-4.7 Q1.5,-7.2 2.8,-6.8 Q3.6,-6.4 3.1,-4.8 L2.1,-1.9 Q1.6,-0.1 2.9,-0.1 Q4.3,-0.3 5.2,-2.4" fill="none" stroke="#111" stroke-width="1.15" stroke-linecap="round"/><circle cx="3.9" cy="-10.2" r="0.85" fill="#111"/></g>
<path transform="translate(17.00,6.50)" d="M0,0 L12.32,0 L6.50,-12.24 L5.65,-12.24 Z M1.27,-0.94 L10.11,-0.94 L5.40,-10.03 Z" fill="#111" fill-rule="evenodd"/>
<text transform="translate(31.0,6.7) scale(0.95,1)" font-size="17" font-style="italic">t</text>
<path d="M39.7,4.9 L47.7,-16.6" stroke="#111" stroke-width="1.05" fill="none"/>
<path transform="translate(50.30,0.00)" d="M0,0 L15.95,0 L8.41,-15.84 L7.31,-15.84 Z M1.65,-1.21 L13.09,-1.21 L6.98,-12.98 Z" fill="#111" fill-rule="evenodd"/>
<text transform="translate(68.6,0.3) scale(0.88,1)" font-size="25.5" font-style="italic">t</text>
</g>
</svg></body></html>
